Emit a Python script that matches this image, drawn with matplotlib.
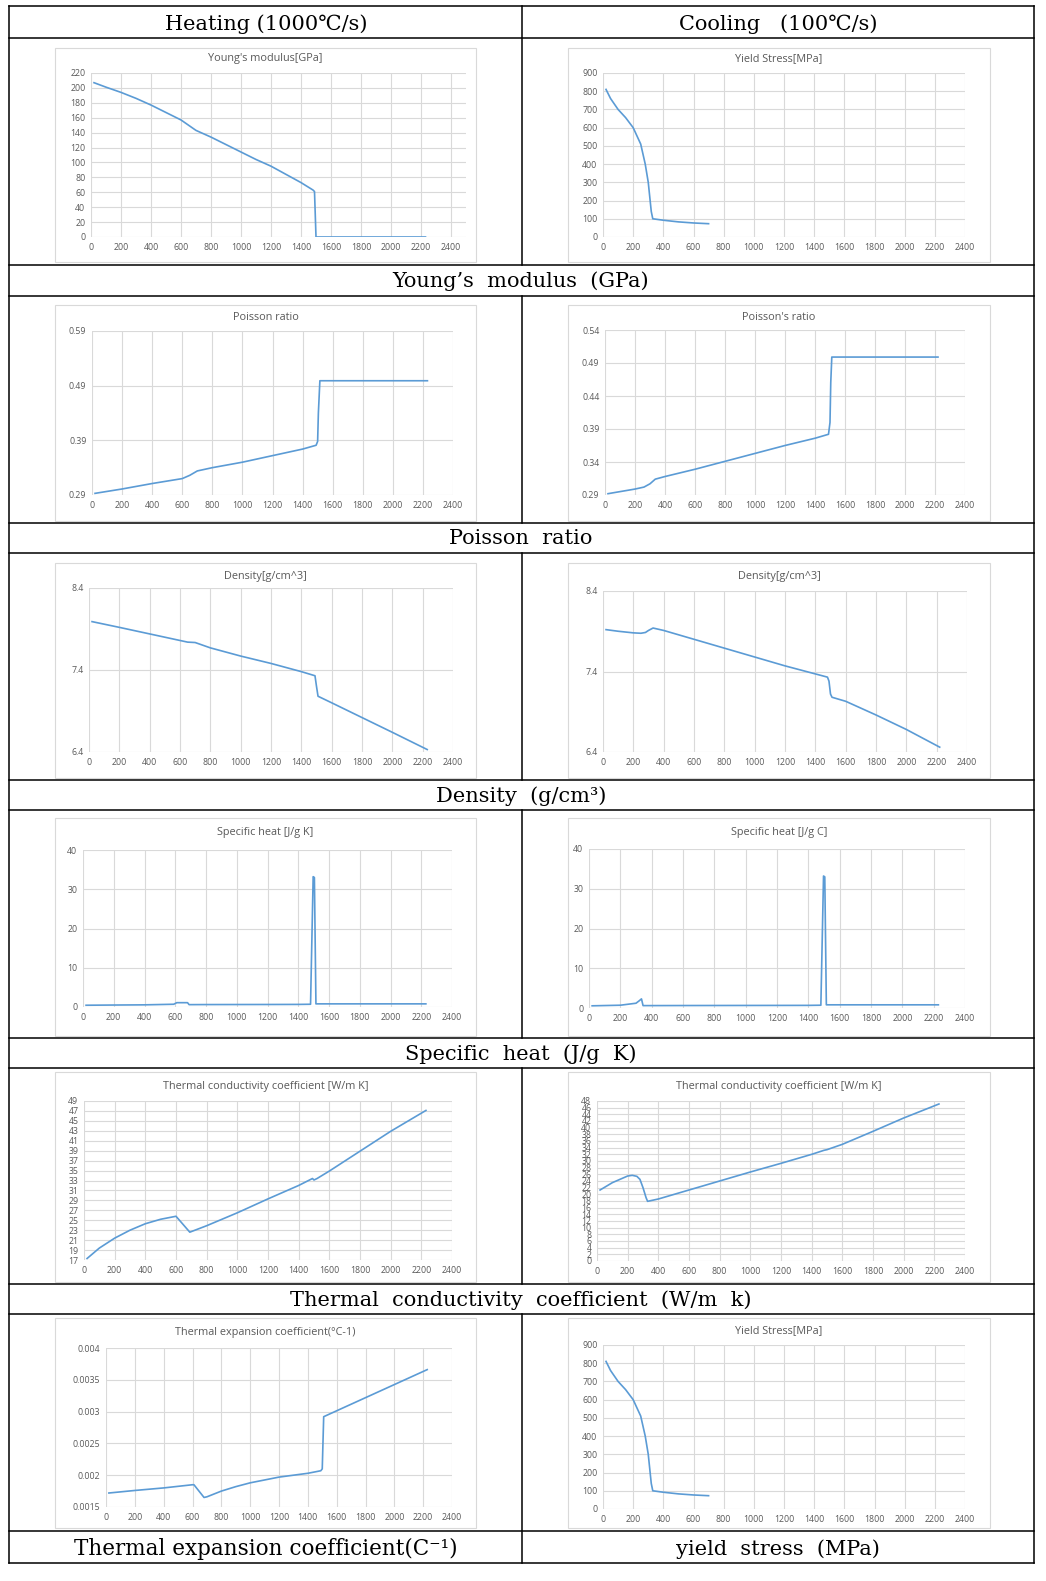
import numpy as np
import matplotlib
matplotlib.use("Agg")
import matplotlib.pyplot as plt
from matplotlib.lines import Line2D
from matplotlib.patches import Rectangle

W, H = 1046, 1581

# temperatures (C) and values
ym_heat_t = [20, 100, 200, 300, 400, 500, 600, 700, 800, 900, 1000, 1100, 1200, 1300, 1400, 1480, 1490, 1500, 1510, 1600, 1800, 2000, 2230]
ym_heat_v = [207, 201, 194, 186, 177, 167, 157, 143, 134, 124, 114, 104, 95, 84, 73, 63, 61, 0, 0, 0, 0, 0, 0]

ys_cool_t = [20, 50, 100, 150, 200, 250, 280, 300, 310, 320, 330, 400, 500, 600, 700]
ys_cool_v = [810, 760, 700, 655, 600, 510, 400, 300, 220, 140, 100, 92, 83, 77, 73]

pr_heat_t = [20, 200, 400, 600, 650, 700, 800, 1000, 1200, 1400, 1490, 1500, 1505, 1515, 2230]
pr_heat_v = [0.293, 0.301, 0.311, 0.320, 0.326, 0.334, 0.340, 0.350, 0.362, 0.374, 0.381, 0.388, 0.44, 0.499, 0.499]

pr_cool_t = [20, 200, 260, 300, 335, 400, 600, 800, 1000, 1200, 1400, 1490, 1500, 1505, 1512, 2220]
pr_cool_v = [0.292, 0.299, 0.302, 0.307, 0.314, 0.318, 0.329, 0.341, 0.353, 0.365, 0.376, 0.382, 0.40, 0.46, 0.499, 0.499]

de_heat_t = [20, 200, 400, 600, 650, 700, 800, 1000, 1200, 1400, 1490, 1500, 1510, 1600, 1800, 2000, 2230]
de_heat_v = [7.99, 7.92, 7.84, 7.76, 7.74, 7.735, 7.67, 7.57, 7.48, 7.38, 7.33, 7.2, 7.08, 7.0, 6.82, 6.64, 6.43]

de_cool_t = [20, 100, 200, 250, 280, 300, 330, 400, 600, 800, 1000, 1200, 1400, 1480, 1490, 1500, 1510, 1600, 1800, 2000, 2220]
de_cool_v = [7.92, 7.90, 7.88, 7.875, 7.885, 7.91, 7.94, 7.91, 7.80, 7.69, 7.58, 7.47, 7.37, 7.33, 7.28, 7.12, 7.08, 7.03, 6.86, 6.68, 6.46]

sh_heat_t = [20, 200, 400, 590, 610, 680, 690, 800, 1000, 1200, 1400, 1480, 1497, 1505, 1515, 1600, 2000, 2230]
sh_heat_v = [0.45, 0.5, 0.55, 0.7, 1.1, 1.1, 0.6, 0.62, 0.63, 0.64, 0.66, 0.7, 33.2, 33.0, 0.8, 0.8, 0.8, 0.8]

sh_cool_t = [20, 200, 300, 320, 335, 345, 600, 1000, 1400, 1480, 1497, 1505, 1515, 1800, 2230]
sh_cool_v = [0.55, 0.7, 1.2, 1.8, 2.3, 0.6, 0.62, 0.64, 0.66, 0.7, 33.2, 33.0, 0.8, 0.8, 0.8]

tc_heat_t = [20, 100, 200, 300, 400, 500, 600, 690, 800, 1000, 1200, 1400, 1490, 1500, 1520, 1600, 1800, 2000, 2230]
tc_heat_v = [17.3, 19.4, 21.4, 23.0, 24.3, 25.2, 25.8, 22.6, 23.9, 26.5, 29.3, 32.0, 33.4, 33.1, 33.4, 34.9, 38.9, 42.9, 47.1]

tc_cool_t = [20, 100, 200, 230, 260, 280, 300, 320, 330, 400, 600, 800, 1000, 1200, 1400, 1480, 1500, 1600, 1800, 2000, 2230]
tc_cool_v = [21.3, 23.5, 25.5, 25.7, 25.4, 24.5, 22.0, 19.0, 17.9, 18.6, 21.3, 24.0, 26.7, 29.3, 32.0, 33.2, 33.4, 35.0, 38.9, 42.9, 47.1]

te_heat_t = [20, 200, 400, 600, 610, 680, 700, 800, 900, 1000, 1200, 1400, 1490, 1500, 1510, 2228]
te_heat_v = [0.00172, 0.00176, 0.0018, 0.00185, 0.00185, 0.00165, 0.00166, 0.00175, 0.00182, 0.00188, 0.00197, 0.00203, 0.00207, 0.0021, 0.00292, 0.00366]

x_ticks = [0, 200, 400, 600, 800, 1000, 1200, 1400, 1600, 1800, 2000, 2200, 2400]
ym_ticks = [0, 20, 40, 60, 80, 100, 120, 140, 160, 180, 200, 220]
ys_ticks = [0, 100, 200, 300, 400, 500, 600, 700, 800, 900]
pr_heat_ticks = [0.29, 0.39, 0.49, 0.59]
pr_cool_ticks = [0.29, 0.34, 0.39, 0.44, 0.49, 0.54]
de_ticks = [6.4, 7.4, 8.4]
sh_ticks = [0, 10, 20, 30, 40]
tc_heat_ticks = list(range(17, 50, 2))
tc_cool_ticks = list(range(0, 49, 2))
te_ticks = [0.0015, 0.002, 0.0025, 0.003, 0.0035, 0.004]

header_left = "Heating (1000℃/s)"
header_right = "Cooling   (100℃/s)"
row_labels = ["Young’s  modulus  (GPa)", "Poisson  ratio", "Density  (g/cm³)",
              "Specific  heat  (J/g  K)", "Thermal  conductivity  coefficient  (W/m  k)"]
bottom_left = "Thermal expansion coefficient(C⁻¹)"
bottom_right = "yield  stress  (MPa)"

LINE = "#5B9BD5"
GRID = "#D9D9D9"
TXT = "#595959"
SERIF = ["DejaVu Serif", "DejaVu Sans"]
SANS = "Open Sans"

LF = (55, 476)   # left chart frame x
RF = (568, 990)  # right chart frame x

charts = [
    dict(fx=LF, fy=(48, 262), plot=(91, 73, 466, 237), ty=59, title="Young's modulus[GPa]",
         t=ym_heat_t, v=ym_heat_v, xmax=2500, yt=ym_ticks),
    dict(fx=RF, fy=(48, 262), plot=(603, 73, 965, 237), ty=59, title="Yield Stress[MPa]",
         t=ys_cool_t, v=ys_cool_v, xmax=2400, yt=ys_ticks),
    dict(fx=LF, fy=(305, 521), plot=(92, 331, 453, 495), ty=318, title="Poisson ratio",
         t=pr_heat_t, v=pr_heat_v, xmax=2400, yt=pr_heat_ticks),
    dict(fx=RF, fy=(305, 521), plot=(605, 330, 965, 495), ty=318, title="Poisson's ratio",
         t=pr_cool_t, v=pr_cool_v, xmax=2400, yt=pr_cool_ticks),
    dict(fx=LF, fy=(563, 778), plot=(89, 588, 453, 752), ty=577, title="Density[g/cm^3]",
         t=de_heat_t, v=de_heat_v, xmax=2400, yt=de_ticks),
    dict(fx=RF, fy=(563, 778), plot=(603, 591, 967, 752), ty=577, title="Density[g/cm^3]",
         t=de_cool_t, v=de_cool_v, xmax=2400, yt=de_ticks),
    dict(fx=LF, fy=(818, 1036), plot=(83, 850, 452, 1007), ty=832, title="Specific heat [J/g K]",
         t=sh_heat_t, v=sh_heat_v, xmax=2400, yt=sh_ticks),
    dict(fx=RF, fy=(818, 1036), plot=(589, 849, 965, 1008), ty=832, title="Specific heat [J/g C]",
         t=sh_cool_t, v=sh_cool_v, xmax=2400, yt=sh_ticks),
    dict(fx=LF, fy=(1072, 1282), plot=(84, 1101, 452, 1260), ty=1086, title="Thermal conductivity coefficient [W/m K]",
         t=tc_heat_t, v=tc_heat_v, xmax=2400, yt=tc_heat_ticks),
    dict(fx=RF, fy=(1072, 1282), plot=(597, 1101, 965, 1261), ty=1086, title="Thermal conductivity coefficient [W/m K]",
         t=tc_cool_t, v=tc_cool_v, xmax=2400, yt=tc_cool_ticks),
    dict(fx=LF, fy=(1318, 1528), plot=(106, 1348, 452, 1507), ty=1332, title="Thermal expansion coefficient(°C-1)",
         t=te_heat_t, v=te_heat_v, xmax=2400, yt=te_ticks),
    dict(fx=RF, fy=(1318, 1528), plot=(603, 1345, 965, 1509), ty=1331, title="Yield Stress[MPa]",
         t=ys_cool_t, v=ys_cool_v, xmax=2400, yt=ys_ticks),
]


def fx(x):
    return x / W


def fy(y):
    return 1 - y / H


def hline(fig, y, x0, x1):
    fig.add_artist(Line2D([fx(x0), fx(x1)], [fy(y), fy(y)], color="black", lw=1.1))


def vline(fig, x, y0, y1):
    fig.add_artist(Line2D([fx(x), fx(x)], [fy(y0), fy(y1)], color="black", lw=1.1))


def draw_chart(fig, c):
    x0, x1 = c["fx"]
    y0, y1 = c["fy"]
    fig.add_artist(Rectangle((fx(x0), fy(y1)), (x1 - x0) / W, (y1 - y0) / H,
                             transform=fig.transFigure, fill=False, edgecolor=GRID, lw=0.8))
    fig.text(fx((x0 + x1) / 2), fy(c["ty"]), c["title"], ha="center", va="center",
             fontsize=7.8, color=TXT, family=SANS)

    px0, py0, px1, py1 = c["plot"]
    ax = fig.add_axes([fx(px0), fy(py1), (px1 - px0) / W, (py1 - py0) / H])
    ax.set_facecolor("none")
    ax.plot(c["t"], c["v"], color=LINE, lw=1.2)
    ax.set_xlim(0, c["xmax"])
    ax.set_ylim(c["yt"][0], c["yt"][-1])
    ax.set_xticks(x_ticks)
    ax.set_xticklabels([str(t) for t in x_ticks])
    ax.set_yticks(c["yt"])
    ax.set_yticklabels(["{:g}".format(t) for t in c["yt"]])
    ax.grid(True, color=GRID, lw=0.8)
    ax.set_axisbelow(True)
    for s in ax.spines.values():
        s.set_visible(False)
    ax.tick_params(length=0, labelsize=6.3, colors=TXT, pad=4)
    for lab in ax.get_xticklabels() + ax.get_yticklabels():
        lab.set_family(SANS)
    return ax


def main():
    fig = plt.figure(figsize=(W / 100, H / 100), dpi=100)

    # table grid
    rows = [6, 38, 265, 296, 523, 553, 780, 810, 1038, 1068, 1284, 1314, 1531, 1563]
    for y in rows:
        hline(fig, y, 9, 1034)
    vline(fig, 9, 6, 1563)
    vline(fig, 1034, 6, 1563)
    for a, b in [(6, 265), (296, 523), (553, 780), (810, 1038), (1068, 1284), (1314, 1563)]:
        vline(fig, 522, a, b)

    fig.text(fx(266), fy(24), header_left, ha="center", va="center", fontsize=15, family=SERIF)
    fig.text(fx(778), fy(24), header_right, ha="center", va="center", fontsize=15, family=SERIF)
    for lab, (a, b) in zip(row_labels, [(265, 296), (523, 553), (780, 810), (1038, 1068), (1284, 1314)]):
        fig.text(fx(521), fy((a + b) / 2 + 1), lab, ha="center", va="center", fontsize=15, family=SERIF)
    fig.text(fx(266), fy(1549), bottom_left, ha="center", va="center", fontsize=15.5, family=SERIF)
    fig.text(fx(778), fy(1549), bottom_right, ha="center", va="center", fontsize=15, family=SERIF)

    for c in charts:
        draw_chart(fig, c)

    fig.savefig("out.png", dpi=100)
    plt.close(fig)


if __name__ == "__main__":
    main()
